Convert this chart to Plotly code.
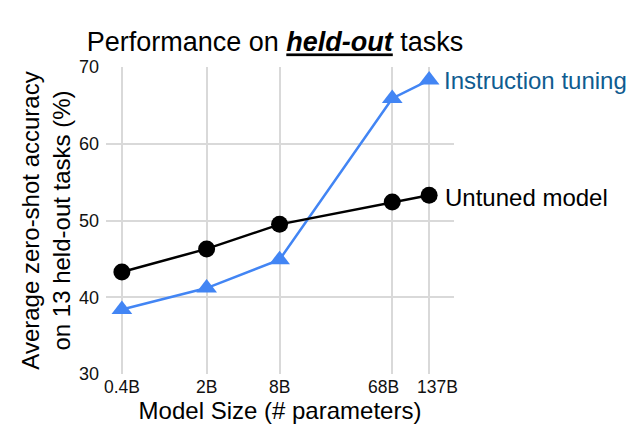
import math
import plotly.graph_objects as go

model_sizes = [0.4, 2, 8, 68, 137]
size_labels = ["0.4B", "2B", "8B", "68B", "137B"]
untuned = [43.3, 46.3, 49.5, 52.4, 53.3]
instruction = [38.4, 41.2, 44.9, 65.9, 68.3]
y_ticks = [30, 40, 50, 60, 70]

FONT = "Arial, Liberation Sans, sans-serif"
OFF = 8  # page offset of the figure inside the window

fig = go.Figure()
fig.add_trace(go.Scatter(
    x=model_sizes, y=instruction, mode="lines+markers",
    line=dict(color="#4285f4", width=2.5),
    marker=dict(symbol="triangle-up", size=18, color="#4285f4"),
    showlegend=False, cliponaxis=False))
fig.add_trace(go.Scatter(
    x=model_sizes, y=untuned, mode="lines+markers",
    line=dict(color="black", width=2.5),
    marker=dict(symbol="circle", size=17, color="black"),
    showlegend=False, cliponaxis=False))

fig.add_annotation(x=math.log10(model_sizes[-1]), y=instruction[-1], xref="x", yref="y",
                   text="Instruction tuning", showarrow=False,
                   xanchor="left", yanchor="middle", xshift=13,
                   font=dict(family=FONT, size=24, color="#0f5c90"))
fig.add_annotation(x=math.log10(model_sizes[-1]), y=untuned[-1], xref="x", yref="y",
                   text="Untuned model", showarrow=False,
                   xanchor="left", yanchor="middle", xshift=14, yshift=-2,
                   font=dict(family=FONT, size=24, color="black"))

# x tick labels (nudged apart at the crowded right end, as in the original)
label_nudge = [0, 0, 0, -9, 8]
for v, lab, dx in zip(model_sizes, size_labels, label_nudge):
    fig.add_annotation(x=math.log10(v), y=0, xref="x", yref="paper",
                       text=lab, showarrow=False, xanchor="center",
                       yanchor="middle", xshift=dx, yshift=-13,
                       font=dict(family=FONT, size=17.5, color="#111"))

fig.update_layout(
    width=642, height=437,
    margin=dict(l=106 - OFF, r=188 + OFF, t=67 - OFF, b=63 + OFF, autoexpand=False),
    paper_bgcolor="white", plot_bgcolor="white",
    font=dict(family=FONT, color="black"),
    title=dict(text="Performance on <b><i><u>held-out</u></i></b> tasks",
               x=(275 - OFF) / 642, xref="container", xanchor="center",
               y=1 - (42 - OFF) / 437, yref="container", yanchor="middle",
               font=dict(family=FONT, size=27, color="black")),
)
fig.update_xaxes(
    type="log", range=[-0.529, 2.342],
    tickvals=model_sizes, ticktext=size_labels, showticklabels=False,
    showgrid=True, gridcolor="#d9d9d9", gridwidth=1.5,
    showline=False, zeroline=False, ticks="", automargin=False,
    title=dict(text="Model Size (# parameters)", standoff=28,
               font=dict(family=FONT, size=24, color="black")),
)
fig.update_yaxes(
    range=[30, 70], tickvals=y_ticks,
    showgrid=True, gridcolor="#d9d9d9", gridwidth=1.5,
    showline=False, zeroline=False, ticks="", automargin=False,
    tickfont=dict(family=FONT, size=18, color="#111"),
    ticklabelstandoff=6,
    title=dict(text="Average zero-shot accuracy<br>on 13 held-out tasks (%)",
               standoff=1,
               font=dict(family=FONT, size=24, color="black")),
)

fig.write_html("out.html")
